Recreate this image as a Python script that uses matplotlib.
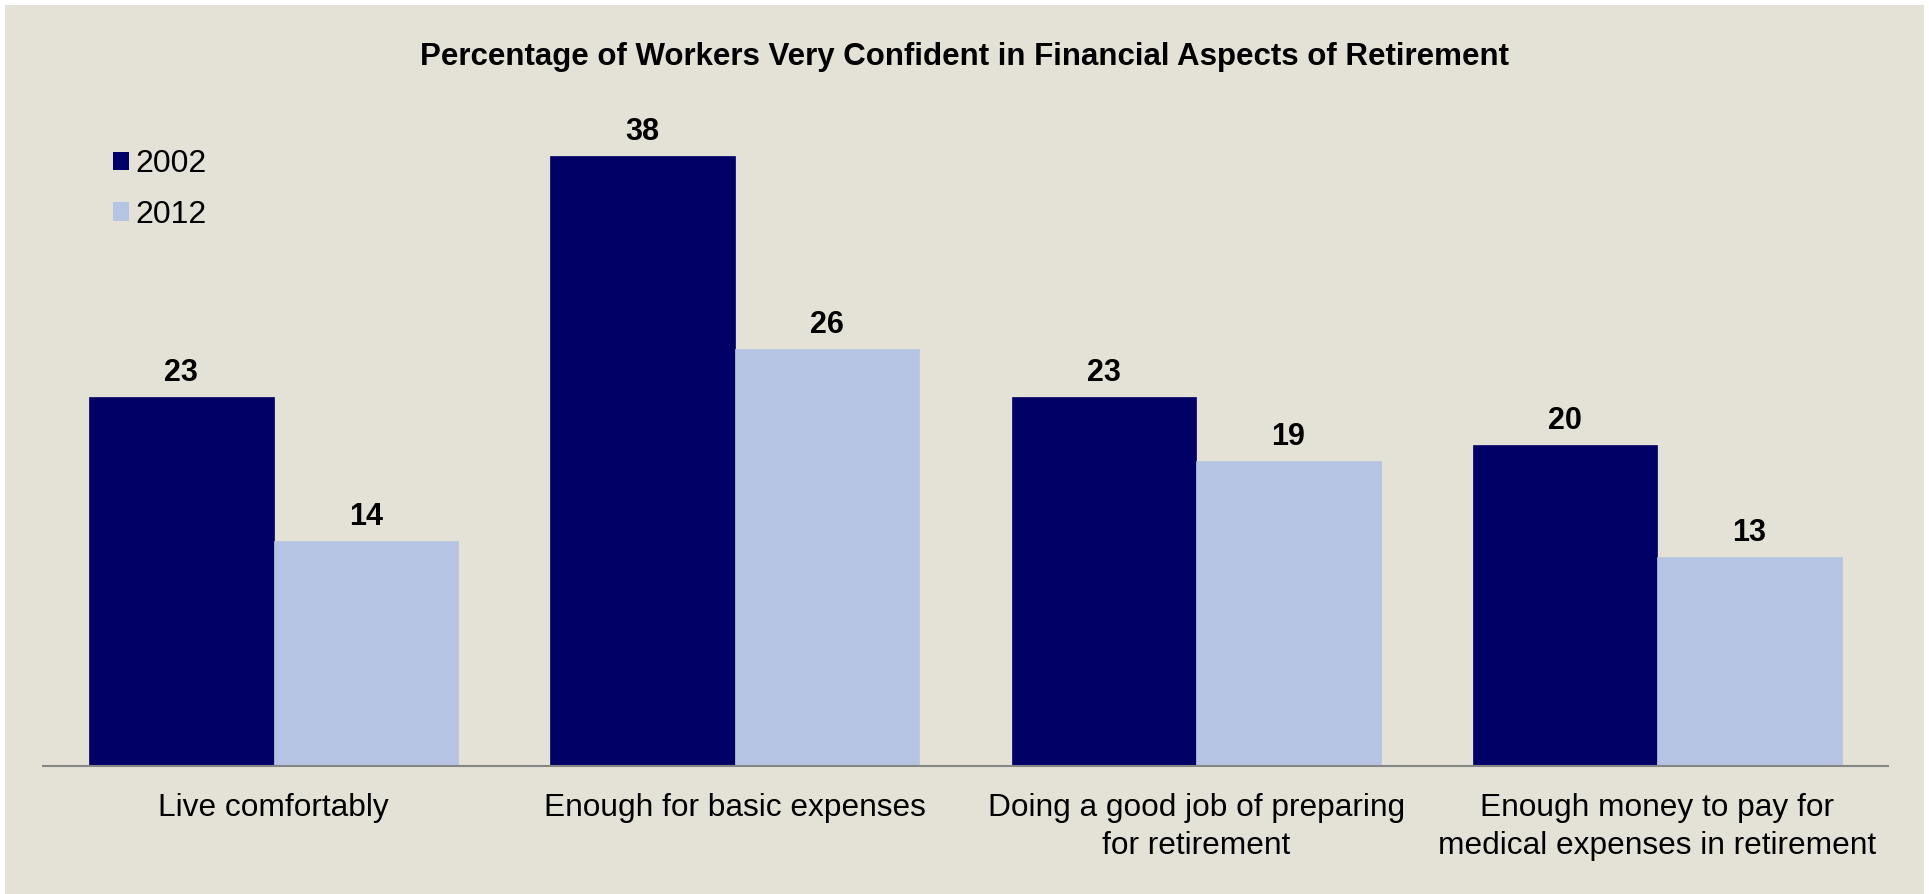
import matplotlib
matplotlib.use("Agg")
import matplotlib.pyplot as plt
from matplotlib.patches import Rectangle, Patch
import numpy as np

plt.rcParams['font.family'] = ['Liberation Sans', 'DejaVu Sans']

title = "Percentage of Workers Very Confident in Financial Aspects of Retirement"
categories = [
    "Live comfortably",
    "Enough for basic expenses",
    "Doing a good job of preparing\nfor retirement",
    "Enough money to pay for\nmedical expenses in retirement",
]
series_names = ["2002", "2012"]
values_2002 = [23, 38, 23, 20]
values_2012 = [14, 26, 19, 13]

colors = ["#000066", "#B4C4E2"]
bg = "#E4E2D7"

W, H = 1929, 894
fig = plt.figure(figsize=(W / 100, H / 100), dpi=100, facecolor=bg)

# thin white margin on the top, left and right of the beige panel
for (x0, y0, w, h) in ((0, 0, 5, H), (1924, 0, W - 1924, H), (0, H - 5, W, 5)):
    fig.patches.append(Rectangle((x0 / W, y0 / H), w / W, h / H,
                                 transform=fig.transFigure, facecolor="white",
                                 edgecolor="none", zorder=-10))

ax_left, ax_right = 43 / W, 1888 / W
ax_bottom = (H - 766) / H
ymax = 45
ax_height = ymax * 16.05 / H
ax = fig.add_axes([ax_left, ax_bottom, ax_right - ax_left, ax_height])
ax.set_facecolor(bg)

x = np.arange(len(categories))
bw = 0.4
b1 = ax.bar(x - bw / 2, values_2002, bw, color=colors[0], edgecolor=colors[0],
            linewidth=0.5, label=series_names[0], zorder=2)
b2 = ax.bar(x + bw / 2, values_2012, bw, color=colors[1], edgecolor=colors[1],
            linewidth=0.5, label=series_names[1], zorder=2)

for bars, vals in ((b1, values_2002), (b2, values_2012)):
    for rect, v in zip(bars, vals):
        ax.annotate(f"{v}", (rect.get_x() + rect.get_width() / 2, v),
                    xytext=(0, 17.3), textcoords="offset points",
                    ha="center", va="center", fontsize=22, fontweight="bold",
                    color="black")

ax.set_xlim(-0.5, len(categories) - 0.5)
ax.set_ylim(0, ymax)
ax.set_yticks([])
ax.set_xticks(x)
ax.set_xticklabels(categories, fontsize=22.8, linespacing=1.36)
ax.tick_params(axis="x", length=0, pad=19.5)
for s in ("top", "right", "left"):
    ax.spines[s].set_visible(False)
ax.spines["bottom"].set_color("#868686")
ax.spines["bottom"].set_linewidth(1.5)
ax.spines["bottom"].set_zorder(3)

fig.text(965 / W, 1 - 57 / H, title, ha="center", va="center",
         fontsize=22.5, fontweight="bold")

handles = [Patch(facecolor=c, edgecolor="none") for c in colors]
fig.legend(handles, series_names, loc="upper left",
           bbox_to_anchor=(113 / W, 1 - 149 / H), frameon=False,
           fontsize=23, handlelength=0.5, handleheight=0.5,
           handletextpad=0.2, labelspacing=0.65, borderpad=0, borderaxespad=0)

fig.savefig("out.png", dpi=100, facecolor=bg)
